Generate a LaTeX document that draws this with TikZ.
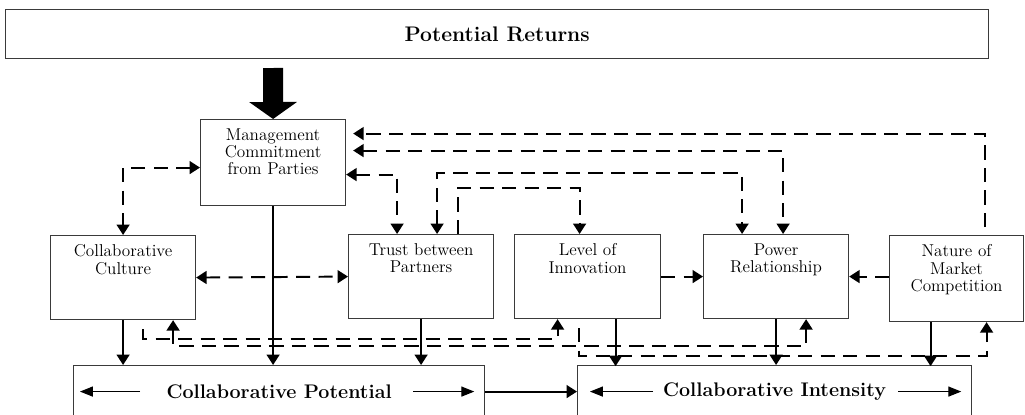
\documentclass[tikz,border=0pt]{standalone}
\usepackage{tikz}
\usetikzlibrary{arrows.meta,positioning,calc}
\definecolor{edge}{HTML}{3A3A3A}

\begin{document}
\begin{tikzpicture}[x=0.025cm, y=-0.025cm, font=\fontsize{12.2}{12.2}\selectfont,
 >={Triangle[width=3.2mm,length=2.6mm]},
 box/.style={draw=edge,line width=0.8pt,anchor=north west,inner sep=0pt},
 boxtext/.style={anchor=north,align=center,inner sep=0pt,yshift=-2.4mm},
 title/.style={font=\fontsize{14}{16}\selectfont\bfseries},
 arr/.style={->,line width=1.4pt},
 darr/.style={line width=1.4pt,dash pattern=on 10pt off 6pt},
 thinarr/.style={-{Triangle[width=2.5mm,length=3.2mm]},line width=0.8pt}]
\useasboundingbox (0,0) rectangle (1025,414);
\node[box,minimum width=24.575cm,minimum height=1.225cm,font=\fontsize{15}{17}\selectfont\bfseries] (ret) at (5,9) {Potential Returns};
\node[box,minimum width=3.625cm,minimum height=2.15cm,label={[boxtext]north:{Management\\Commitment\\from Parties}}] (mgmt) at (200,119) {};
\node[box,minimum width=3.625cm,minimum height=2.1cm,label={[boxtext]north:{Collaborative\\Culture}}] (cult) at (50,235) {};
\node[box,minimum width=3.625cm,minimum height=2.1cm,label={[boxtext]north:{Trust between\\Partners}}] (trust) at (348,234) {};
\node[box,minimum width=3.65cm,minimum height=2.1cm,label={[boxtext]north:{Level of\\Innovation}}] (innov) at (514,234) {};
\node[box,minimum width=3.625cm,minimum height=2.1cm,label={[boxtext]north:{Power\\Relationship}}] (power) at (703,234) {};
\node[box,minimum width=3.35cm,minimum height=2.15cm,label={[boxtext]north:{Nature of\\Market\\Competition}}] (market) at (889,235) {};
\node[box,title,minimum width=10.275cm,minimum height=1.3cm] (pot) at (73,365) {Collaborative Potential};
\node[box,title,minimum width=9.85cm,minimum height=1.3cm] (inten) at (577,365) {Collaborative Intensity};
\coordinate (src) at (273,68);
\draw[line width=5mm,-{Triangle[width=11.75mm,length=4.25mm]}] (src) -- (mgmt.north);
\draw[arr] (mgmt) -- (mgmt |- pot.north);
\draw[arr] (cult) -- (cult |- pot.north);
\draw[arr] (trust) -- (trust |- pot.north);
\draw[arr] ($(innov.south)+(28,0)$) -- ++(0,47);
\draw[arr] (power) -- (power |- inten.north);
\draw[arr] ($(market.south)+(-26,0)$) -- ++(0,44);
\draw[arr] (pot.east) -- (inten.west);
\draw[thinarr] ($(pot.west)+(67,0)$) -- ($(pot.west)+(7,0)$);
\draw[thinarr] ($(pot.east)+(-72,0)$) -- ($(pot.east)+(-11,0)$);
\draw[thinarr] ($(inten.west)+(76,0)$) -- ($(inten.west)+(13,0)$);
\draw[thinarr] ($(inten.east)+(-74,0)$) -- ($(inten.east)+(-11,0)$);
\draw[darr,<->] ($(mgmt.west)+(0,5)$) -| (cult.north);
\draw[darr,<->] ($(mgmt.east)+(0,12)$) -| ($(trust.north)+(-24,0)$);
\draw[darr,<->] ($(trust.north)+(16,0)$) -- ++(0,-61) -| ($(power.north)+(-34,0)$);
\draw[darr,->] ($(trust.north)+(37,0)$) -- ++(0,-46) -| ($(innov.north)+(-8,0)$);
\draw[darr,<->] ($(mgmt.east)+(7,-12)$) -| ($(power.north)+(7,0)$);
\draw[darr,->] ($(market.north)+(28,-8)$) |- ($(mgmt.east)+(7,-29)$);
\draw[darr,<->] (cult.east) -- (trust.west);
\draw[darr,->] (innov.east) -- (power.west);
\draw[darr,->] (market.west |- power.east) -- (power.east);
\draw[darr,->] ($(cult.south)+(20,9)$) -- ++(0,10) -| ($(innov.south)+(-30,0)$);
\draw[darr,<->] ($(cult.south)+(50,0)$) -- ++(0,26) -| ($(power.south)+(30,0)$);
\draw[darr,->] ($(innov.south)+(-9,9)$) -- ++(0,28) -| ($(market.south)+(30,0)$);
\end{tikzpicture}
\end{document}
